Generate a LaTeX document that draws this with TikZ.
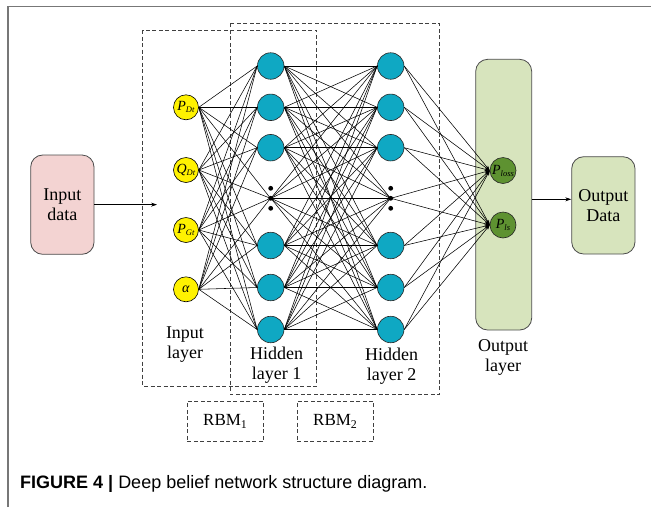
\documentclass[tikz,border=0pt]{standalone}
\usepackage{fontspec}
\setmainfont{Liberation Serif}
\newfontfamily\capfont{Liberation Sans}
\usetikzlibrary{arrows.meta}
\definecolor{inyellow}{HTML}{FFF200}
\definecolor{hidteal}{HTML}{0FA8C3}
\definecolor{outgreen}{HTML}{5E9231}
\definecolor{lgreen}{HTML}{D7E4BD}
\definecolor{lpink}{HTML}{F3D3D2}
\definecolor{framegray}{HTML}{777777}
\newcommand\nlab[2]{\textit{#1}\raisebox{-2pt}{\fontsize{8.5}{9}\selectfont\textit{#2}}}
\begin{document}
\begin{tikzpicture}[x=1pt,y=-1pt,
  inp/.style={circle,draw=black,line width=0.6pt,fill=inyellow,minimum size=25pt,inner sep=0pt,font=\fontsize{14}{14}\selectfont},
  hid/.style={circle,draw=black!85,line width=0.6pt,fill=hidteal,minimum size=26.5pt,inner sep=0pt},
  dotc/.style={circle,inner sep=0pt,minimum size=0pt},
  outn/.style={circle,draw=black!85,line width=0.6pt,fill=outgreen,minimum size=26pt,inner sep=0pt,font=\fontsize{14}{14}\selectfont},
  conn/.style={line width=0.55pt},
  dbox/.style={draw=black!75,dash pattern=on 4pt off 2.5pt,line width=0.8pt},
  lbl/.style={font=\fontsize{18}{20}\selectfont,align=center},
  rbox/.style={draw=black!70,line width=0.8pt,rounded corners=12pt}
]
\useasboundingbox (0,0) rectangle (651,507);
\fill[white] (0,0) rectangle (651,507);
\draw[framegray,line width=1.6pt] (8,507) -- (8,6.5) -- (651,6.5);

% dashed layer boxes
\draw[dbox] (142.7,30) rectangle (316.7,386);
\draw[dbox] (230,23.3) rectangle (439.3,394.5);

% output layer
\node[rbox,fill=lgreen,minimum width=56pt,minimum height=270.7pt] (outlayer) at (503.7,194.65) {};

% input nodes
\node[inp] (i1) at (186,107.3) {\nlab{P}{Dt}};
\node[inp] (i2) at (186,170) {\nlab{Q}{Dt}};
\node[inp] (i3) at (186,230) {\nlab{P}{Gt}};
\node[inp] (i4) at (186,289.3) {\textit{α}};

% hidden layers
\foreach \L/\X in {a/270.7,b/390.7}{
  \node[hid] (\L1) at (\X,66) {};
  \node[hid] (\L2) at (\X,107.3) {};
  \node[hid] (\L3) at (\X,147.7) {};
  \node[dotc] (\L4) at (\X,198.3) {};
  \node[hid] (\L5) at (\X,245.5) {};
  \node[hid] (\L6) at (\X,287.5) {};
  \node[hid] (\L7) at (\X,329.5) {};
  \fill (\X,188.3) circle (2.4);
  \fill (\X,198.3) circle (2.4);
  \fill (\X,208.3) circle (2.4);
}

% output nodes
\node[outn] (o1) at (503,170.5) {\nlab{P}{loss}};
\node[outn] (o2) at (503,225) {\nlab{P}{ls}};

% connections
\foreach \i in {1,...,4}{
  \foreach \j in {1,...,7}{
    \draw[conn] (i\i.east) -- (a\j.west);
  }
}
\foreach \i in {1,...,7}{
  \foreach \j in {1,...,7}{
    \draw[conn] (a\i.east) -- (b\j.west);
  }
}
\foreach \i in {1,...,7}{
  \foreach \j in {1,2}{
    \draw[conn,-{Stealth[length=5pt,width=3.5pt]}] (b\i.east) -- (o\j.west);
  }
}

% input / output data
\node[rbox,fill=lpink,minimum width=63.3pt,minimum height=99.3pt,lbl] (indata) at (62.35,204.65) {Input\\data};
\node[rbox,fill=lgreen,minimum width=63.3pt,minimum height=97.3pt,lbl] (outdata) at (603.35,205.35) {Output\\Data};
\coordinate (inend) at (157,204.65);
\draw[line width=0.6pt,-{Stealth[length=6pt,width=4pt]}] (indata.east) -- (inend);
\coordinate (oy) at (550,199.3);
\draw[line width=0.6pt,-{Stealth[length=6pt,width=4pt]}] (outlayer.east |- oy) -- (outdata.west |- oy);

% labels
\node[lbl] (linput) at (185,345) {Input\\layer};
\node[lbl] (lhid1) at (276.7,365) {Hidden\\layer 1};
\node[lbl] (lhid2) at (391.7,366) {Hidden\\layer 2};
\node[lbl] (lout) at (503,357.5) {Output\\layer};

% RBM boxes
\node[dbox,minimum width=76pt,minimum height=40.7pt,font=\fontsize{17}{17}\selectfont] (rbm1) at (225.3,421.35) {RBM\textsubscript{1}};
\node[dbox,minimum width=76pt,minimum height=40.7pt,font=\fontsize{17}{17}\selectfont] (rbm2) at (335.3,421.35) {RBM\textsubscript{2}};

% caption
\node[anchor=west,inner sep=0pt,font=\capfont\fontsize{18}{20}\selectfont] (cap) at (20,484) {\textbf{FIGURE 4 |} Deep belief network structure diagram.};
\end{tikzpicture}
\end{document}
